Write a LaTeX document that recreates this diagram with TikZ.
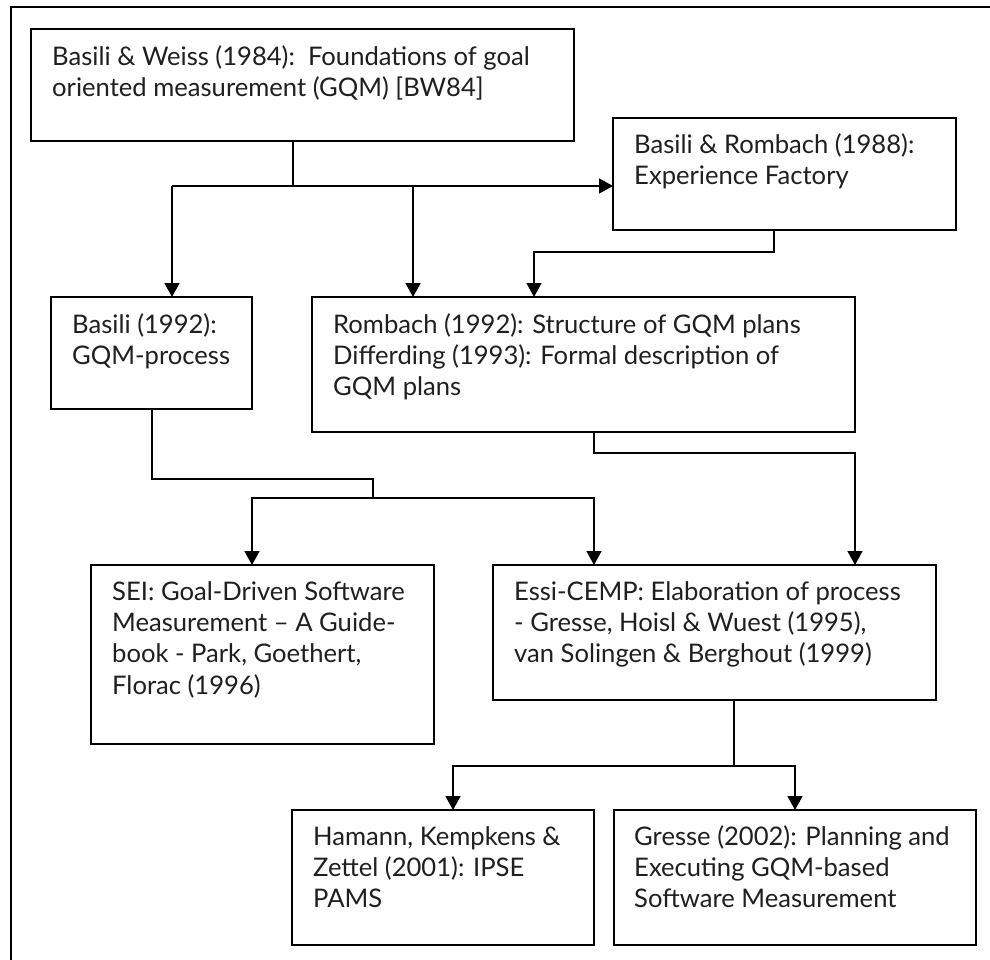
\documentclass[tikz,border=0pt]{standalone}
\usepackage{fontspec}
\setmainfont{Lato}
\usetikzlibrary{arrows.meta}

% strut that fixes the top of the first text line
\newcommand{\firstline}{\rule{0pt}{24pt}}

\begin{document}
\begin{tikzpicture}[x=1pt,y=-1pt,
  box/.style={draw, line width=1.5pt, rectangle, anchor=north west, inner sep=0pt, outer sep=0pt},
  txt/.style={anchor=north west, inner sep=0pt, align=left, text=black!88,
    font={\fontsize{25.6}{31.3}\selectfont}},
  link/.style={line width=1.4pt},
  arr/.style={link, -{Triangle[length=14pt,width=15pt]}}]

\useasboundingbox (0,0) rectangle (990,960);
\fill[white] (0,0) rectangle (990,960);

% surrounding frame (left and top edges)
\draw[line width=1.8pt] (11,960) -- (11,7) -- (990,7);

% boxes
\node[box, minimum width=543pt, minimum height=112pt] (b1) at (31,29) {};
\node[box, minimum width=343pt, minimum height=112pt] (b2) at (613,118) {};
\node[box, minimum width=201pt, minimum height=112pt] (b3) at (51,297) {};
\node[box, minimum width=543pt, minimum height=135pt] (b4) at (312,297) {};
\node[box, minimum width=343pt, minimum height=179pt] (b5) at (91,565) {};
\node[box, minimum width=443pt, minimum height=135pt] (b6) at (493,565) {};
\node[box, minimum width=302pt, minimum height=135pt] (b7) at (292,810) {};
\node[box, minimum width=362pt, minimum height=135pt] (b8) at (614,810) {};

% box texts
\node[txt] (t1) at (52,41) {\firstline Basili \& Weiss (1984):\ \ Foundations of goal\\oriented measurement (GQM) [BW84]};
\node[txt] (t2) at (634,129) {\firstline Basili \& Rombach (1988):\\Experience Factory};
\node[txt] (t3) at (72,309) {\firstline Basili (1992):\\GQM-process};
\node[txt] (t4) at (333,309) {\firstline Rombach (1992): Structure of GQM plans\\Differding (1993): Formal description of\\GQM plans};
\node[txt] (t5) at (112,576) {\firstline SEI: Goal-Driven Software\\Measurement – A Guide-\\book - Park, Goethert,\\Florac (1996)};
\node[txt] (t6) at (514,576) {\firstline Essi-CEMP: Elaboration of process\\- Gresse, Hoisl \& Wuest (1995),\\van Solingen \& Berghout (1999)};
\node[txt] (t7) at (313,821) {\firstline Hamann, Kempkens \&\\Zettel (2001): IPSE\\PAMS};
\node[txt] (t8) at (634,821) {\firstline Gresse (2002): Planning and\\Executing GQM-based\\Software Measurement};

% branch points
\coordinate (k1) at (293,186);
\coordinate (k1l) at (172,186);
\coordinate (k1m) at (413,186);
\coordinate (k2) at (774,252);
\coordinate (k2l) at (534,252);
\coordinate (k3a) at (152,479);
\coordinate (k3b) at (373,479);
\coordinate (k3c) at (373,498);
\coordinate (k3l) at (252,498);
\coordinate (k3r) at (594,498);
\coordinate (k4) at (594,453);
\coordinate (k4r) at (855,453);
\coordinate (k5) at (734,766);
\coordinate (k5l) at (453,766);
\coordinate (k5r) at (795,766);

% connectors
\draw[link] (b1.south -| k1) -- (k1);
\draw[arr] (k1l) -- (k1 -| b2.west);
\draw[arr] (k1l) -- (b3.north -| k1l);
\draw[arr] (k1m) -- (b4.north -| k1m);

\draw[arr] (b2.south -| k2) -- (k2) -- (k2l) -- (b4.north -| k2l);

\draw[link] (b3.south -| k3a) -- (k3a) -- (k3b) -- (k3c);
\draw[arr] (k3c) -- (k3l) -- (b5.north -| k3l);
\draw[arr] (k3c) -- (k3r) -- (b6.north -| k3r);

\draw[arr] (b4.south -| k4) -- (k4) -- (k4r) -- (b6.north -| k4r);

\draw[link] (b6.south -| k5) -- (k5);
\draw[arr] (k5) -- (k5l) -- (b7.north -| k5l);
\draw[arr] (k5) -- (k5r) -- (b8.north -| k5r);

\end{tikzpicture}
\end{document}
